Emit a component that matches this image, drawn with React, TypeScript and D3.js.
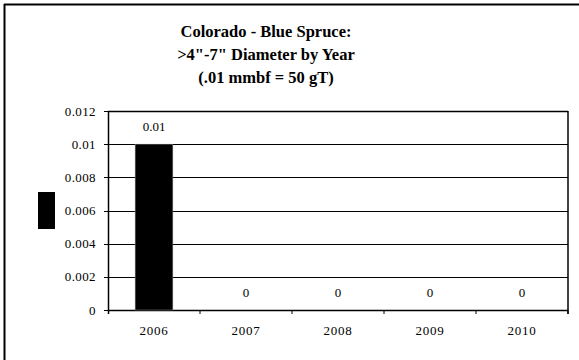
import React from "react";
import * as d3 from "d3";

const years = ["2006", "2007", "2008", "2009", "2010"];
const values = [0.01, 0, 0, 0, 0];
const valueLabels = ["0.01", "0", "0", "0", "0"];
const yTicks = [0, 0.002, 0.004, 0.006, 0.008, 0.01, 0.012];
const yTickLabels = ["0", "0.002", "0.004", "0.006", "0.008", "0.01", "0.012"];
const titleLines = ["Colorado - Blue Spruce:", ">4\"-7\" Diameter by Year", "(.01 mmbf = 50 gT)"];

export default function App() {
  const W = 579, H = 360;
  const left = 108, right = 568, top = 111, bottom = 310;
  const x = d3.scaleBand<string>().domain(years).range([left, right]).paddingInner(0.59).paddingOuter(0.295);
  const band = d3.scaleBand<string>().domain(years).range([left, right]);
  const y = d3.scaleLinear().domain([0, 0.012]).range([bottom, top]);
  const font = "Liberation Serif, Times New Roman, serif";
  return (
    <svg width={W} height={H} style={{ position: "absolute", left: 0, top: 0, background: "#fff" }}>
      <rect x={0} y={0} width={W} height={H} fill="#fff" />
      <line x1={4.5} y1={4} x2={4.5} y2={H} stroke="#000" strokeWidth={2} />
      <line x1={4} y1={4.5} x2={W} y2={4.5} stroke="#000" strokeWidth={2} />
      <g style={{ fontFamily: font }} fontWeight="bold" fontSize={16.5} textAnchor="middle">
        {titleLines.map((t, i) => (
          <text key={i} x={266} y={37 + i * 23}>{t}</text>
        ))}
      </g>
      <g style={{ fontFamily: font }} fontSize={13}>
        {yTicks.map((t, i) => (
          <g key={i}>
            <line x1={left} x2={right} y1={Math.round(y(t)) + 0.5} y2={Math.round(y(t)) + 0.5} stroke="#000" strokeWidth={1} />
            <line x1={left - 4} x2={left} y1={Math.round(y(t)) + 0.5} y2={Math.round(y(t)) + 0.5} stroke="#000" />
            <text x={96} y={y(t) + 4.5} textAnchor="end" letterSpacing={0.4}>{yTickLabels[i]}</text>
          </g>
        ))}
        <line x1={left + 0.5} x2={left + 0.5} y1={top} y2={bottom + 4} stroke="#000" strokeWidth={1.5} />
        <line x1={right} x2={right} y1={top} y2={bottom + 4} stroke="#000" strokeWidth={1.5} />
        <line x1={left} x2={right} y1={top + 0.5} y2={top + 0.5} stroke="#000" strokeWidth={1.5} />
        <line x1={left} x2={right} y1={bottom + 0.5} y2={bottom + 0.5} stroke="#000" strokeWidth={1.5} />
        {years.map((yr, i) => (
          <line key={"t" + i} x1={(band(yr) as number) + band.bandwidth()} x2={(band(yr) as number) + band.bandwidth()} y1={bottom} y2={bottom + 4} stroke="#000" />
        ))}
        {years.map((yr, i) => (
          <rect key={"b" + i} x={x(yr)} y={y(values[i])} width={x.bandwidth()} height={bottom - y(values[i])} fill="#000" stroke="#888" strokeWidth={0.5} />
        ))}
        {years.map((yr, i) => (
          <text key={"v" + i} x={(band(yr) as number) + band.bandwidth() / 2} y={y(values[i]) - 13} textAnchor="middle">{valueLabels[i]}</text>
        ))}
        {years.map((yr, i) => (
          <text key={"x" + i} x={(band(yr) as number) + band.bandwidth() / 2} y={335} textAnchor="middle" letterSpacing={0.8}>{yr}</text>
        ))}
      </g>
      <rect x={38} y={192} width={17} height={37} fill="#000" />
    </svg>
  );
}
